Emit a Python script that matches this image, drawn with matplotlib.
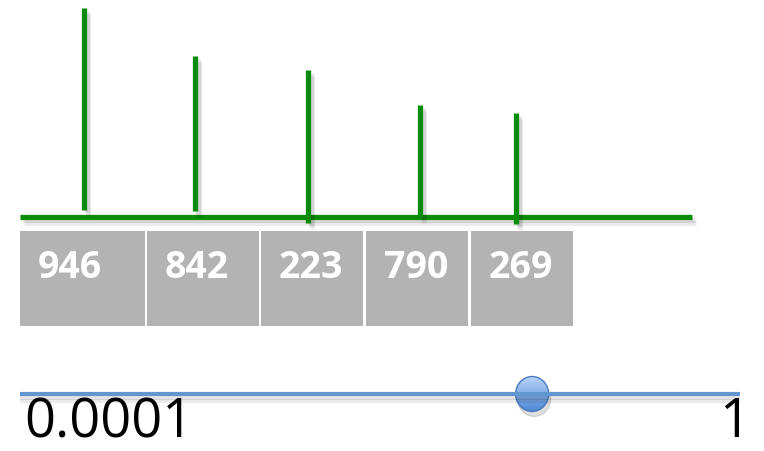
import matplotlib
matplotlib.use("Agg")
import matplotlib.pyplot as plt
import matplotlib.patheffects as pe
from matplotlib.patches import Ellipse
import numpy as np

# stems (pixel layout, y measured upward from the baseline)
stem_x = [84, 195, 308, 420, 516]
stem_height = [209, 161, 147, 112, 104]
stem_foot = [7, 6, -6, 0, -7]      # >0 stops above baseline, <0 goes below

# number boxes
box_labels = ["946", "842", "223", "790", "269"]
box_left = [20, 147, 261, 366, 471]
box_width = [125, 112, 102, 102, 102]

# slider
slider_min, slider_max = 0.0001, 1
slider_value = 0.07

green = "#0a8c0a"
base_y = 217

fig = plt.figure(figsize=(7.64, 4.51), dpi=100)
ax = fig.add_axes([0, 0, 1, 1])
ax.set_xlim(0, 764)
ax.set_ylim(451, 0)
ax.axis("off")

shadow = [pe.SimpleLineShadow(offset=(3, -4), shadow_color="#000000", alpha=0.08),
          pe.SimpleLineShadow(offset=(2, -2), shadow_color="#000000", alpha=0.10),
          pe.Normal()]

# baseline and stems
ax.plot([20, 692], [base_y, base_y], color=green, lw=3.8, solid_capstyle="butt",
        path_effects=shadow, zorder=3)
tops = [base_y - h for h in stem_height]
feet = [base_y - f for f in stem_foot]
for x, t, f in zip(stem_x, tops, feet):
    ax.plot([x, x], [f, t], color=green, lw=3.8, solid_capstyle="butt",
            path_effects=shadow, zorder=4)

# gray boxes with values
ax.bar(box_left, 95, width=box_width, bottom=231, align="edge",
       color="#b3b3b3", edgecolor="none", zorder=2)
for left, lab in zip(box_left, box_labels):
    ax.text(left + 18, 268, lab, color="white", fontsize=27, fontweight="bold",
            family="Open Sans", ha="left", va="center", zorder=5)

# slider track on a log scale
sax = fig.add_axes([20 / 764, 32 / 451, 720 / 764, 50 / 451])
sax.set_xscale("log")
sax.set_xlim(slider_min, slider_max)
sax.set_ylim(-1, 1)
sax.axis("off")
sax.patch.set_alpha(0)
sax.plot([slider_min, slider_max], [0, 0], color="#6196cf", lw=3,
         solid_capstyle="butt", clip_on=False,
         path_effects=[pe.SimpleLineShadow(offset=(0, -5), shadow_color="#000000", alpha=0.08),
                       pe.SimpleLineShadow(offset=(0, -3), shadow_color="#000000", alpha=0.10),
                       pe.Normal()])

# knob with vertical gradient, placed at the slider value
fig.canvas.draw()
kx, ky = sax.transData.transform((slider_value, 0))
ky = 451 - ky
knob_shadow = Ellipse((kx + 2, ky + 5), 33, 35, color="#000000", alpha=0.12, zorder=6)
ax.add_patch(knob_shadow)
grad = np.linspace(0, 1, 64).reshape(-1, 1)
cmap = matplotlib.colors.LinearSegmentedColormap.from_list("knob", ["#b8d4f7", "#4e88d6"])
img = ax.imshow(grad, cmap=cmap, extent=(kx - 17, kx + 17, ky + 18, ky - 18),
                aspect="auto", zorder=7)
knob = Ellipse((kx, ky), 33, 35, facecolor="none", edgecolor="#4a7abd", lw=1, zorder=8)
ax.add_patch(knob)
img.set_clip_path(knob)
ax.set_xlim(0, 764)
ax.set_ylim(451, 0)

# slider end labels
ax.text(24, 450, "0.0001", fontsize=39, family="Open Sans", ha="left", va="bottom")
ax.text(750, 450, "1", fontsize=39, family="Open Sans", ha="right", va="bottom")

fig.savefig("out.png", dpi=100)
